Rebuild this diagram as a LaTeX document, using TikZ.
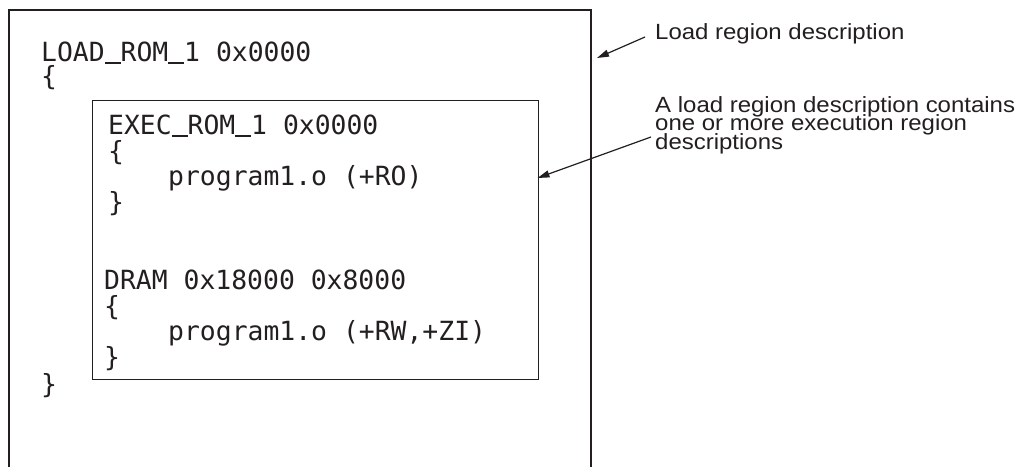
\documentclass[tikz,border=0pt]{standalone}
\usepackage{fontspec}
\setmainfont{Liberation Sans}
\setmonofont{DejaVu Sans Mono}
\newfontfamily\notefamily[FakeStretch=1.09]{Liberation Sans}
\usetikzlibrary{arrows.meta}
\definecolor{ink}{HTML}{231F20}
\newcommand\codefont{\ttfamily\fontsize{26.4bp}{25bp}\selectfont}
\newcommand\notefont{\notefamily\fontsize{22bp}{18.5bp}\selectfont}
\newcommand\us{\makebox[0.602em][l]{\rule[-0.07em]{0.602em}{0.075em}}}
\begin{document}
\begin{tikzpicture}[x=1bp,y=-1bp,
  code/.style={font=\codefont, anchor=base west, inner sep=0pt, text=ink},
  note/.style={font=\notefont, anchor=base west, inner sep=0pt, text=ink, align=left,
    execute at begin node={\baselineskip=18.5bp\lineskiplimit=-100pt\relax}},
  pointer/.style={draw=ink, line width=1.2bp, -{Triangle[length=12bp,width=7bp]}},
  regionbox/.style={draw=ink, line width=1.2bp, inner sep=0pt, anchor=north west}]
\useasboundingbox (0,0) rectangle (1032,467);
% outer load region (open at the bottom)
\draw[ink, line width=2.5bp] (9,467) -- (9,10) -- (591,10) -- (591,467);
% inner execution region box
\node[regionbox, minimum width=446bp, minimum height=279bp] (inner) at (92,100) {};
% code
\node[code] (load) at (41,62) {LOAD\us ROM\us 1 0x0000};
\node[code] (lbrace) at (41,86) {\{};
\node[code] (exec) at (108,135) {EXEC\us ROM\us 1 0x0000};
\node[code] (ebrace) at (108,161) {\{};
\node[code] (eprog) at (168,186) {program1.o (+RO)};
\node[code] (eclose) at (108,212) {\}};
\node[code] (dram) at (104,290) {DRAM 0x18000 0x8000};
\node[code] (dbrace) at (104,316) {\{};
\node[code] (dprog) at (168,341) {program1.o (+RW,+ZI)};
\node[code] (dclose) at (104,367) {\}};
\node[code] (lclose) at (41,394) {\}};
% notes
\node[note] (note1) at (655,40) {Load region description};
\node[note, anchor=north west] (note2) at (655,96) {A load region description contains\\one or more execution region\\descriptions};
% pointers
\coordinate (s1) at (645,37);
\coordinate (t1) at (597,58);
\coordinate (s2) at (651,137);
\coordinate (t2) at (537.5,178);
\draw[pointer] (s1) -- (t1);
\draw[pointer] (s2) -- (t2);
\end{tikzpicture}
\end{document}
